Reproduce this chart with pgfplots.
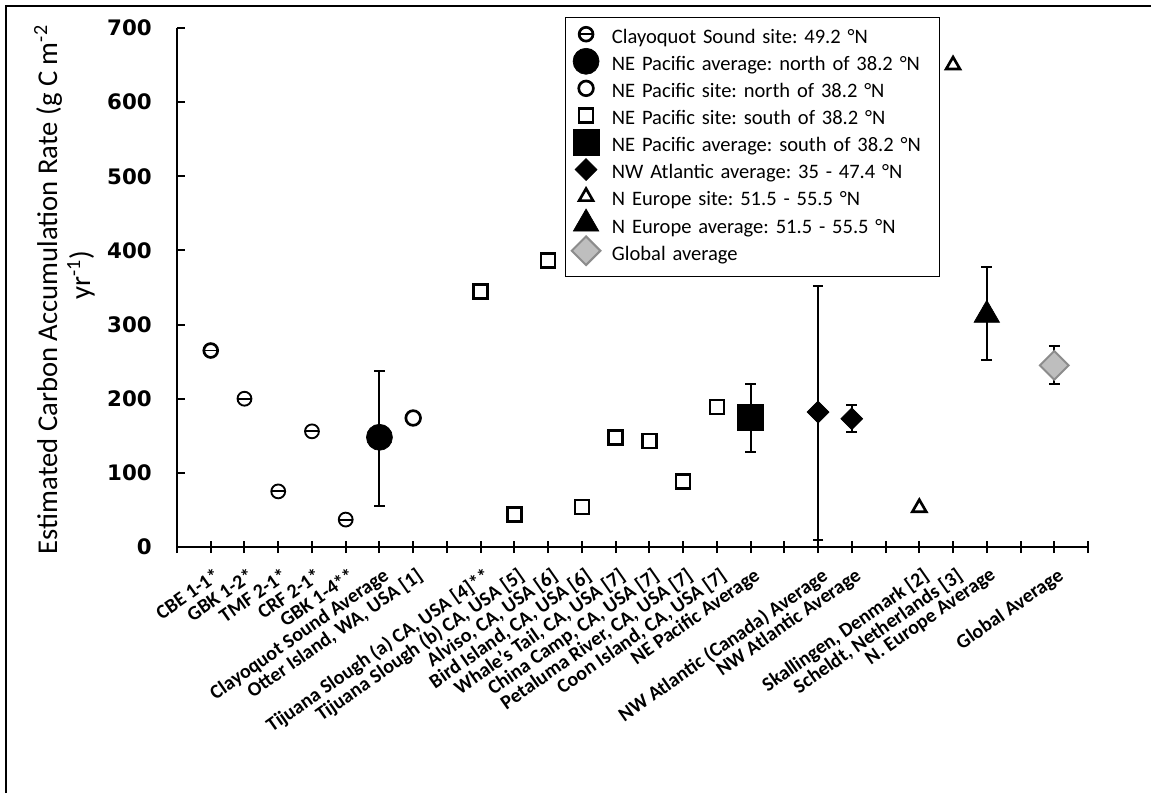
\documentclass[border=0pt]{standalone}
\usepackage{pgfplots}
\pgfplotsset{compat=1.18}
\usepackage{fontspec}
\setmainfont{Carlito}
\newfontfamily\dejavu{DejaVu Sans}
\pgfdeclareplotmark{ominus}{%
  \pgfpathcircle{\pgfpointorigin}{\pgfplotmarksize}%
  \pgfusepathqstroke
  \pgfsetlinewidth{1.4pt}%
  \pgfpathmoveto{\pgfqpoint{-\pgfplotmarksize}{0pt}}%
  \pgfpathlineto{\pgfqpoint{\pgfplotmarksize}{0pt}}%
  \pgfusepathqstroke}
\definecolor{gfill}{RGB}{190,190,190}
\definecolor{gedge}{RGB}{140,140,140}
\begin{document}
\frenchspacing
\begin{tikzpicture}
\useasboundingbox (-132.75pt,-184.5pt) rectangle (730.5pt,410.25pt);
\begin{axis}[
  scale only axis, width=683.25pt, height=389.25pt,
  at={(0,0)}, anchor=south west,
  clip=false,
  xmin=0, xmax=27, ymin=0, ymax=700,
  axis x line*=bottom, axis y line*=left,
  axis line style={line width=1.8pt, -},
  tick align=inside,
  xtick={0,...,27},
  ytick={0,100,...,700},
  xtick style={line width=1.5pt, black, /pgfplots/major tick length=9pt, yshift=-4.5pt},
  ytick style={line width=1.5pt, black, /pgfplots/major tick length=6pt},
  /pgf/number format/assume math mode=true,
  yticklabel style={font=\dejavu\bfseries\fontsize{16}{18}\selectfont, inner sep=0pt, xshift=-18.75pt},
  xticklabel style={font=\bfseries\fontsize{15}{17}\selectfont, rotate=35, anchor=north east, inner sep=0pt, yshift=-13pt, xshift=-7pt},
  xticklabels={{},{CBE 1-1*},{GBK 1-2*},{TMF 2-1*},{CRF 2-1*},{GBK 1-4**},{Clayoquot Sound Average},{Otter Island, WA, USA [1]},{},{Tijuana Slough (a) CA, USA [4]**},{Tijuana Slough (b) CA, USA [5]},{Alviso, CA, USA [6]},{Bird Island, CA, USA [6]},{Whale's Tail, CA, USA [7]},{China Camp, CA, USA [7]},{Petaluma River, CA, USA [7]},{Coon Island, CA, USA [7]},{NE Pacific Average},{},{NW Atlantic (Canada) Average},{NW Atlantic Average},{},{Skallingen, Denmark [2]},{Scheldt, Netherlands [3]},{N. Europe Average},{},{Global Average},{}},
  legend style={at={(rel axis cs:0.4259,1.0212)}, anchor=north west, draw=black, line width=0.8pt,
    font=\fontsize{15.4}{17}\selectfont, inner xsep=2pt, inner ysep=7.5pt, row sep=3.3pt,
    nodes={text height=11pt, text depth=4pt, inner sep=1pt, text width=243pt, align=left}},
  legend cell align=left,
  error bars/error bar style={line width=1.5pt, black},
  error bars/error mark options={rotate=90, mark size=4pt, line width=1.5pt, black},
]
\pgfplotsset{mylegend/.style={only marks, legend image code/.code={\path (0pt,-3pt) (31pt,7pt); \draw[##1, overlay] plot coordinates {(13pt,3.5pt)};}}}
% Clayoquot sites
\addplot[mylegend, mark=ominus, mark size=5.2pt, mark options={line width=2pt, draw=black, fill=none}]
 coordinates {(1,265) (2,200) (3,75) (4,156) (5,37)};
\addlegendentry{Clayoquot Sound site: 49.2 °N}
% NE Pacific average north
\addplot[mylegend, mark=*, mark size=9.75pt, mark options={draw=black, fill=black, line width=0.5pt},
 error bars/.cd, y dir=both, y explicit]
 coordinates {(6,148) += (0,89) -= (0,93)};
\addlegendentry{NE Pacific average: north of 38.2 °N}
% NE Pacific site north
\addplot[mylegend, mark=o, mark size=5.5pt, mark options={line width=2pt, draw=black, fill=white}]
 coordinates {(7,174)};
\addlegendentry{NE Pacific site: north of 38.2 °N}
% NE Pacific site south
\addplot[mylegend, mark=square, mark size=5.25pt, mark options={line width=2pt, draw=black, fill=white}]
 coordinates {(9,345) (10,44) (11,386) (12,54) (13,148) (14,143) (15,88) (16,189)};
\addlegendentry{NE Pacific site: south of 38.2 °N}
% NE Pacific average south
\addplot[mylegend, mark=square*, mark size=9.75pt, mark options={draw=black, fill=black, line width=0.5pt},
 error bars/.cd, y dir=both, y explicit]
 coordinates {(17,175) += (0,45) -= (0,47)};
\addlegendentry{NE Pacific average: south of 38.2 °N}
% NW Atlantic average
\addplot[mylegend, mark=square*, mark size=5.8pt, mark options={rotate=45, draw=black, fill=black, line width=0.5pt},
 error bars/.cd, y dir=both, y explicit]
 coordinates {(19,182) += (0,170) -= (0,172) (20,173) += (0,18) -= (0,18)};
\addlegendentry{NW Atlantic average: 35 - 47.4 °N}
% N Europe sites
\addplot[mylegend, mark=triangle, mark size=6pt, mark options={line width=2pt, draw=black, fill=white}]
 coordinates {(22,53) (23,650)};
\addlegendentry{N Europe site: 51.5 - 55.5 °N}
% N Europe average
\addplot[mylegend, mark=triangle*, mark size=11pt, mark options={draw=black, fill=black, line width=0.5pt},
 error bars/.cd, y dir=both, y explicit]
 coordinates {(24,313) += (0,64) -= (0,61)};
\addlegendentry{N Europe average: 51.5 - 55.5 °N}
% Global average
\addplot[mylegend, mark=square*, mark size=7.6pt, mark options={rotate=45, draw=gedge, fill=gfill, line width=1.5pt},
 error bars/.cd, y dir=both, y explicit]
 coordinates {(26,245) += (0,26) -= (0,25)};
\addlegendentry{Global average}
\end{axis}
\node[rotate=90, font=\fontsize{21.5}{24}\selectfont] at (-96.75pt,193pt) {Estimated Carbon Accumulation Rate (g C m\textsuperscript{-2}};
\node[rotate=90, font=\fontsize{21.5}{24}\selectfont] at (-72pt,204pt) {yr\textsuperscript{-1})};
\draw[line width=1pt] (-128.25pt,-184.5pt) -- (-128.25pt,405.75pt) -- (730.5pt,405.75pt);
\end{tikzpicture}
\end{document}
